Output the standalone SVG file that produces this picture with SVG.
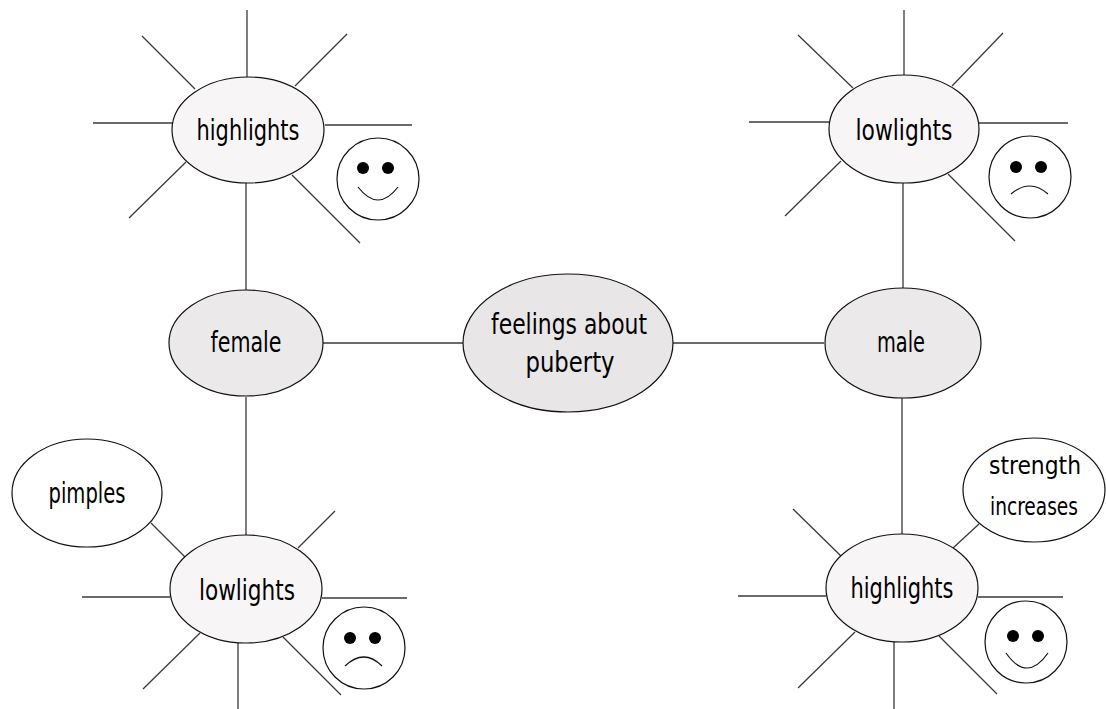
<svg xmlns="http://www.w3.org/2000/svg" width="1106" height="709" viewBox="0 0 1106 709">
<style>
.bg{fill:#ffffff}
.ray{stroke:#3a3a3a;stroke-width:1.3;fill:none}
.link{stroke:#3a3a3a;stroke-width:1.3;fill:none}
.sun{fill:#f8f5f6;stroke:#111;stroke-width:1.2}
.mid{fill:#ebe9ea;stroke:#111;stroke-width:1.2}
.hub{fill:#e8e6e7;stroke:#111;stroke-width:1.2}
.leaf{fill:#ffffff;stroke:#111;stroke-width:1.2}
.face{fill:#ffffff;stroke:#111;stroke-width:1.2}
.eye{fill:#000}
.mouth{fill:none;stroke:#111;stroke-width:1.2}
.t{font-family:"DejaVu Sans Condensed","DejaVu Sans",sans-serif;font-size:28px;fill:#000;text-anchor:middle}
.s{font-size:25px}
</style>
<rect class="bg" x="0" y="0" width="1106" height="709"/>
<g id="connectors">
<line class="link" x1="246" y1="183" x2="246" y2="290"/>
<line class="link" x1="246" y1="397" x2="246" y2="535"/>
<line class="link" x1="323" y1="343" x2="463" y2="343"/>
<line class="link" x1="673" y1="343" x2="824" y2="343"/>
<line class="link" x1="903" y1="183" x2="903" y2="288"/>
<line class="link" x1="902" y1="398" x2="902" y2="534"/>
<line class="link" x1="151" y1="523" x2="185" y2="557"/>
<line class="link" x1="953" y1="548" x2="979" y2="524"/>
</g>
<g id="female-highlights">
<line class="ray" x1="247" y1="10" x2="247" y2="77"/>
<line class="ray" x1="142" y1="36" x2="195" y2="89"/>
<line class="ray" x1="347" y1="34" x2="295" y2="86"/>
<line class="ray" x1="93" y1="123" x2="173" y2="123"/>
<line class="ray" x1="325" y1="125" x2="412" y2="125"/>
<line class="ray" x1="186" y1="162" x2="129" y2="218"/>
<line class="ray" x1="292" y1="175" x2="360" y2="243"/>
<ellipse class="sun" cx="248" cy="130" rx="76" ry="53"/>
<text class="t" x="248" y="140" textLength="103" lengthAdjust="spacingAndGlyphs">highlights</text>
<circle class="face" cx="378" cy="179" r="41"/>
<circle class="eye" cx="363" cy="168" r="6"/>
<circle class="eye" cx="388" cy="168" r="6"/>
<path class="mouth" d="M358 187 Q378 213 398 187"/>
</g>
<g id="female">
<ellipse class="mid" cx="246" cy="343" rx="77" ry="53"/>
<text class="t" x="246" y="352" textLength="71" lengthAdjust="spacingAndGlyphs">female</text>
</g>
<g id="feelings">
<ellipse class="hub" cx="568" cy="343" rx="105" ry="69"/>
<text class="t" x="569" y="334" textLength="156" lengthAdjust="spacingAndGlyphs">feelings about</text>
<text class="t" x="570" y="372" textLength="89" lengthAdjust="spacingAndGlyphs">puberty</text>
</g>
<g id="male">
<ellipse class="mid" cx="903" cy="343" rx="78" ry="55"/>
<text class="t" x="901" y="352" textLength="48" lengthAdjust="spacingAndGlyphs">male</text>
</g>
<g id="male-lowlights">
<line class="ray" x1="904" y1="10" x2="904" y2="76"/>
<line class="ray" x1="798" y1="35" x2="853" y2="88"/>
<line class="ray" x1="1003" y1="33" x2="952" y2="86"/>
<line class="ray" x1="749" y1="122" x2="829" y2="122"/>
<line class="ray" x1="979" y1="123" x2="1068" y2="123"/>
<line class="ray" x1="841" y1="161" x2="785" y2="216"/>
<line class="ray" x1="948" y1="174" x2="1015" y2="241"/>
<ellipse class="sun" cx="904" cy="129" rx="75" ry="54"/>
<text class="t" x="904" y="140" textLength="97" lengthAdjust="spacingAndGlyphs">lowlights</text>
<circle class="face" cx="1030" cy="177" r="41"/>
<circle class="eye" cx="1016" cy="167" r="6"/>
<circle class="eye" cx="1041" cy="167" r="6"/>
<path class="mouth" d="M1011 194 Q1030 178 1048 194"/>
</g>
<g id="female-lowlights">
<line class="ray" x1="238" y1="643" x2="238" y2="709"/>
<line class="ray" x1="82" y1="597" x2="170" y2="597"/>
<line class="ray" x1="322" y1="598" x2="407" y2="598"/>
<line class="ray" x1="335" y1="511" x2="298" y2="548"/>
<line class="ray" x1="200" y1="633" x2="143" y2="689"/>
<line class="ray" x1="283" y1="637" x2="341" y2="695"/>
<ellipse class="sun" cx="246" cy="589" rx="76" ry="54"/>
<text class="t" x="247" y="600" textLength="96" lengthAdjust="spacingAndGlyphs">lowlights</text>
<circle class="face" cx="364" cy="648" r="41"/>
<circle class="eye" cx="350" cy="638" r="6"/>
<circle class="eye" cx="375" cy="638" r="6"/>
<path class="mouth" d="M345 666 Q364 648 382 666"/>
</g>
<g id="pimples">
<ellipse class="leaf" cx="87" cy="493" rx="75" ry="54"/>
<text class="t" x="87" y="503" textLength="77" lengthAdjust="spacingAndGlyphs">pimples</text>
</g>
<g id="male-highlights">
<line class="ray" x1="894" y1="641" x2="894" y2="709"/>
<line class="ray" x1="738" y1="596" x2="826" y2="596"/>
<line class="ray" x1="978" y1="597" x2="1063" y2="597"/>
<line class="ray" x1="793" y1="509" x2="841" y2="556"/>
<line class="ray" x1="855" y1="632" x2="798" y2="688"/>
<line class="ray" x1="939" y1="636" x2="997" y2="694"/>
<ellipse class="sun" cx="902" cy="588" rx="76" ry="54"/>
<text class="t" x="902" y="598" textLength="103" lengthAdjust="spacingAndGlyphs">highlights</text>
<circle class="face" cx="1026" cy="642" r="41"/>
<circle class="eye" cx="1013" cy="636" r="6"/>
<circle class="eye" cx="1038" cy="636" r="6"/>
<path class="mouth" d="M1006 653 Q1027 683 1048 653"/>
</g>
<g id="strength">
<ellipse class="leaf" cx="1034" cy="490" rx="71" ry="52"/>
<text class="t s" x="1035" y="474" textLength="92" lengthAdjust="spacingAndGlyphs">strength</text>
<text class="t s" x="1034" y="515" textLength="88" lengthAdjust="spacingAndGlyphs">increases</text>
</g>
</svg>
